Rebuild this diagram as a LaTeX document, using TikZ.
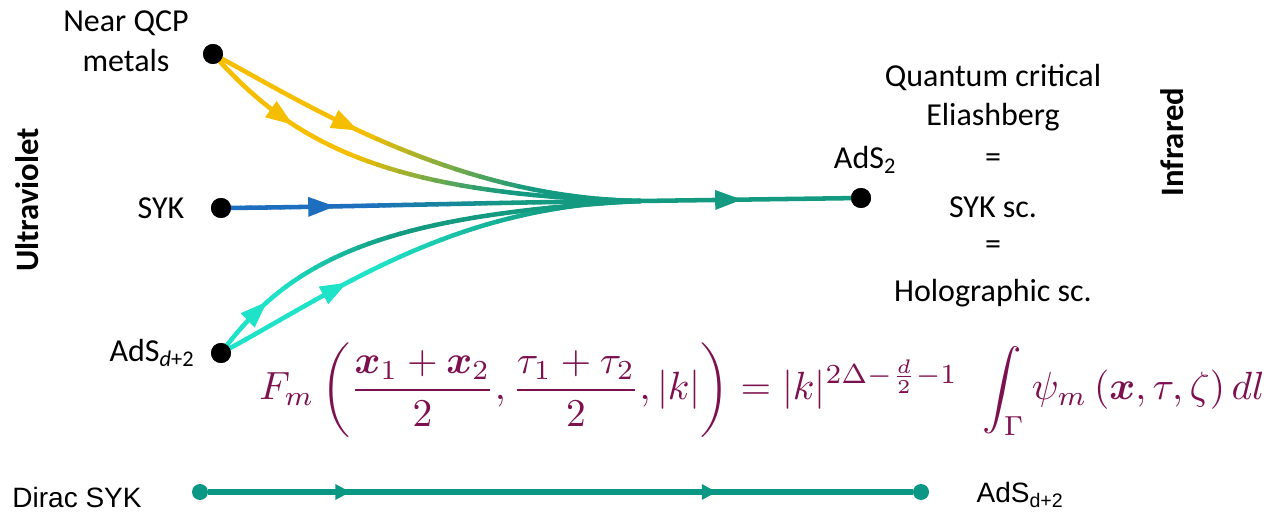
\documentclass[tikz,border=0pt]{standalone}
\usepackage{fontspec}
\usepackage{amsmath}
\usepackage{graphicx}
\setmainfont{Carlito}
\newfontfamily\arialf{Liberation Sans}
\usetikzlibrary{decorations.markings}
\definecolor{cyel}{HTML}{F5BE00}
\definecolor{cblue}{HTML}{1E6EC0}
\definecolor{ccyan}{HTML}{1FE3C8}
\definecolor{cteal}{HTML}{139A80}
\definecolor{cmath}{HTML}{7D104E}
\definecolor{cbot}{HTML}{0A9884}
\tikzset{
  curve/.style={line width=3.4pt, line cap=round},
  dot/.style={circle, fill=black, inner sep=0pt, minimum size=15pt},
  botdot/.style={circle, fill=cbot, inner sep=0pt, minimum size=12pt},
  lbl/.style={font=\fontsize{24}{30}\selectfont, inner sep=0pt},
  side/.style={font=\fontsize{24.5}{26}\selectfont\bfseries, rotate=90, inner sep=0pt},
}
\newcommand\gradcurve[9]{%
  \foreach \i [evaluate=\i as \tpos using \i/40] in {0,...,40}{
    \path (#2) .. controls (#3) and (#4) .. (#5) coordinate[pos=\tpos] (#1-\i);
  }
  \foreach \i [evaluate=\i as \j using int(\i+1)] in {0,...,39}{
    \pgfmathtruncatemacro\pct{max(0,min(100,((\i+0.5)/40-#8)/(#9-#8)*100))}
    \draw[curve, #7!\pct!#6] (#1-\i) -- (#1-\j);
  }
}
\newcommand\arrowon[6]{%
  \path[decorate, decoration={markings, mark=at position #5 with {\fill[#6] (-10pt,-7.5pt) -- (10pt,0pt) -- (-10pt,7.5pt) -- cycle;}}] (#1) .. controls (#2) and (#3) .. (#4);
}
\begin{document}
\begin{tikzpicture}[x=0.75pt, y=-0.75pt]
\useasboundingbox (0,0) rectangle (1268,513);
% nodes (dots)
\node[dot] (qcp) at (213,54) {};
\node[dot] (syk) at (221,208) {};
\node[dot] (ads) at (221,353) {};
\node[dot] (ads2) at (861,198) {};
\coordinate (M) at (640,201);
% curves
\gradcurve{ya}{qcp.center}{300,100}{450,198}{M}{cyel}{cteal}{0.45}{0.8}
\gradcurve{yb}{qcp.center}{290,140}{380,195}{M}{cyel}{cteal}{0.5}{0.8}
\gradcurve{bl}{syk.center}{350,207}{500,202}{M}{cblue}{cteal}{0.35}{0.7}
\gradcurve{ca}{ads.center}{290,260}{380,215}{M}{ccyan}{cteal}{0.25}{0.6}
\gradcurve{cb}{ads.center}{330,295}{450,205}{M}{ccyan}{cteal}{0.45}{0.85}
\draw[curve, cteal] (M) -- (ads2);
% arrowheads
\arrowon{qcp.center}{300,100}{450,198}{M}{0.33}{cyel}
\arrowon{qcp.center}{290,140}{380,195}{M}{0.2}{cyel}
\arrowon{syk.center}{350,207}{500,202}{M}{0.24}{cblue}
\arrowon{ads.center}{290,260}{380,215}{M}{0.12}{ccyan}
\arrowon{ads.center}{330,295}{450,205}{M}{0.29}{ccyan}
\path[decorate, decoration={markings, mark=at position 0.42 with {\fill[cteal] (-10pt,-7.5pt) -- (10pt,0pt) -- (-10pt,7.5pt) -- cycle;}}] (M) -- (ads2);
% redraw dots on top
\node[dot] at (qcp) {};
\node[dot] at (syk) {};
\node[dot] at (ads) {};
\node[dot] at (ads2) {};
% labels
\node[lbl, align=center] (tqcp) at (126,41) {Near QCP\\metals};
\node[lbl] (tsyk) at (161,208) {SYK};
\node[lbl] (tads) at (152,353) {AdS\textsubscript{\textit{d}+2}};
\node[lbl] (tads2) at (865,160) {AdS\textsubscript{2}};
\node[lbl] (r1) at (993,78) {Quantum critical};
\node[lbl] (r2) at (993,117) {Eliashberg};
\node[lbl] (r3) at (993,161) {=};
\node[lbl] (r4) at (993,207) {SYK sc.};
\node[lbl] (r5) at (993,248) {=};
\node[lbl] (r6) at (993,293) {Holographic sc.};
\node[side] (uv) at (27,200) {Ultraviolet};
\node[side] (ir) at (1172,142) {Infrared};
% formula
\node[text=cmath, inner sep=0pt] (eq) at (762,390) {\resizebox{754pt}{!}{$\displaystyle F_m\left(\frac{\boldsymbol{x}_1+\boldsymbol{x}_2}{2},\frac{\tau_1+\tau_2}{2},|k|\right)=|k|^{2\Delta-\frac{d}{2}-1}\;\,\int_\Gamma\psi_m\left(\boldsymbol{x},\tau,\zeta\right)dl$}};
% bottom line
\node[botdot] (d1) at (200,492) {};
\node[botdot] (d2) at (921,492) {};
\draw[line width=5pt, cbot, postaction={decorate}, decoration={markings,
  mark=at position 0.19 with {\fill[cbot] (-5pt,-6pt) -- (6pt,0pt) -- (-5pt,6pt) -- cycle;},
  mark=at position 0.71 with {\fill[cbot] (-5pt,-6pt) -- (6pt,0pt) -- (-5pt,6pt) -- cycle;}}] (d1) -- (d2);
\node[font=\arialf\fontsize{21}{24}\selectfont, inner sep=0pt] (tdirac) at (77,497) {Dirac SYK};
\node[font=\arialf\fontsize{21}{24}\selectfont, inner sep=0pt] (tadsb) at (1020,495) {AdS\textsubscript{d+2}};
\end{tikzpicture}
\end{document}
